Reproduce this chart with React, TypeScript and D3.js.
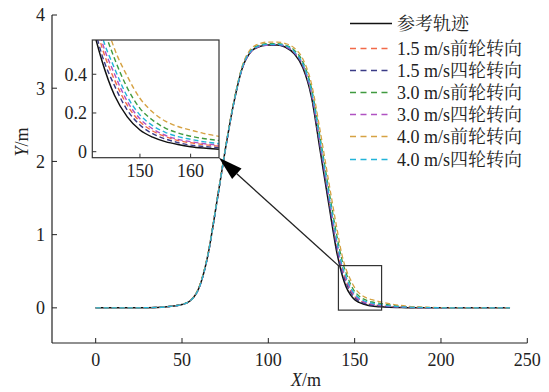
import React from 'react';
import * as d3 from 'd3';

// x positions shared by every series (m)
const xs = [0, 10, 20, 30, 40, 45, 50, 55, 60, 65, 70, 75, 80, 85, 90, 95, 100, 105, 110, 115, 120, 125, 130, 135, 140, 142.5, 145, 147.5, 150, 152.5, 155, 157.5, 160, 162.5, 165, 170, 175, 180, 190, 200, 220, 240];

const refPath = [0, 0, 0, 0.002, 0.012, 0.025, 0.045, 0.1, 0.28, 0.72, 1.42, 2.15, 2.8, 3.28, 3.5, 3.57, 3.59, 3.59, 3.56, 3.47, 3.28, 2.88, 2.15, 1.42, 0.72, 0.47, 0.29, 0.18, 0.112, 0.075, 0.052, 0.037, 0.026, 0.019, 0.014, 0.008, 0.005, 0.003, 0.001, 0, 0, 0];
const front15 = [0, 0, 0, 0.002, 0.013, 0.026, 0.047, 0.1, 0.29, 0.73, 1.43, 2.16, 2.81, 3.29, 3.51, 3.58, 3.6, 3.6, 3.57, 3.49, 3.31, 2.92, 2.22, 1.5, 0.8, 0.54, 0.37, 0.24, 0.155, 0.107, 0.078, 0.058, 0.046, 0.037, 0.03, 0.019, 0.012, 0.008, 0.003, 0.001, 0, 0];
const four15 = [0, 0, 0, 0.002, 0.012, 0.025, 0.046, 0.1, 0.28, 0.71, 1.41, 2.14, 2.8, 3.28, 3.5, 3.57, 3.59, 3.59, 3.56, 3.48, 3.3, 2.9, 2.19, 1.46, 0.76, 0.5, 0.34, 0.215, 0.138, 0.093, 0.066, 0.047, 0.034, 0.027, 0.022, 0.014, 0.009, 0.006, 0.002, 0.001, 0, 0];
const front30 = [0, 0, 0, 0.002, 0.013, 0.026, 0.047, 0.1, 0.29, 0.73, 1.43, 2.16, 2.81, 3.3, 3.52, 3.59, 3.61, 3.61, 3.59, 3.52, 3.36, 3.0, 2.33, 1.62, 0.95, 0.67, 0.48, 0.33, 0.224, 0.163, 0.122, 0.097, 0.08, 0.068, 0.06, 0.04, 0.026, 0.016, 0.006, 0.002, 0, 0];
const four30 = [0, 0, 0, 0.002, 0.012, 0.024, 0.045, 0.1, 0.28, 0.72, 1.42, 2.15, 2.8, 3.28, 3.5, 3.57, 3.59, 3.6, 3.57, 3.49, 3.32, 2.94, 2.25, 1.53, 0.84, 0.57, 0.4, 0.26, 0.17, 0.118, 0.085, 0.064, 0.052, 0.042, 0.035, 0.022, 0.014, 0.009, 0.003, 0.001, 0, 0];
const front40 = [0, 0, 0, 0.002, 0.013, 0.026, 0.048, 0.1, 0.29, 0.73, 1.43, 2.16, 2.82, 3.31, 3.54, 3.61, 3.63, 3.63, 3.61, 3.55, 3.4, 3.06, 2.42, 1.72, 1.05, 0.74, 0.53, 0.39, 0.276, 0.205, 0.158, 0.13, 0.112, 0.095, 0.082, 0.058, 0.038, 0.024, 0.009, 0.003, 0, 0];
const four40 = [0, 0, 0, 0.002, 0.012, 0.025, 0.046, 0.1, 0.28, 0.72, 1.42, 2.15, 2.8, 3.29, 3.51, 3.58, 3.6, 3.6, 3.58, 3.5, 3.33, 2.96, 2.28, 1.56, 0.88, 0.6, 0.43, 0.285, 0.19, 0.135, 0.1, 0.078, 0.064, 0.052, 0.044, 0.028, 0.018, 0.011, 0.004, 0.001, 0, 0];

const seriesNames = ['参考轨迹', '1.5 m/s前轮转向', '1.5 m/s四轮转向', '3.0 m/s前轮转向', '3.0 m/s四轮转向', '4.0 m/s前轮转向', '4.0 m/s四轮转向'];
const seriesValues = [refPath, front15, four15, front30, four30, front40, four40];
const seriesColors = ['#111111', '#f26a48', '#3a3b86', '#3f9a3f', '#b052c2', '#d6a243', '#22b4d9'];

const xTicks = [0, 50, 100, 150, 200, 250];
const yTicks = [0, 1, 2, 3, 4];
const insetXTicks = [150, 160];
const insetYTicks = [0, 0.2, 0.4];
const insetXRange = [140.6, 165.6];
const insetYRange = [-0.031, 0.577];

const FONT = '"Liberation Serif", "Noto Serif CJK SC", "Noto Sans CJK SC", serif';
const FS = 18;

export default function App() {
  const x = d3.scaleLinear().domain([-25.3, 250]).range([52, 527.3]);
  const y = d3.scaleLinear().domain([-0.48, 4]).range([343, 15]);

  const ix = d3.scaleLinear().domain(insetXRange).range([92.3, 219]);
  const iy = d3.scaleLinear().domain(insetYRange).range([157.7, 40]);

  const rows = seriesValues.map((vals) => vals.map((v, i) => [xs[i], v] as [number, number]));

  const line = d3.line<[number, number]>()
    .x(d => x(d[0]))
    .y(d => y(d[1]))
    .curve(d3.curveMonotoneX);
  const insetLine = d3.line<[number, number]>()
    .x(d => ix(d[0]))
    .y(d => iy(d[1]))
    .curve(d3.curveMonotoneX);

  // zoom box in main axes
  const bx0 = x(insetXRange[0]), bx1 = x(insetXRange[1]);
  const by0 = y(insetYRange[1]), by1 = y(insetYRange[0]);

  // arrow from zoom box corner to inset corner
  const ax0 = bx0, ay0 = by0;
  const ax1 = ix(insetXRange[1]), ay1 = iy(insetYRange[0]);
  const ang = Math.atan2(ay1 - ay0, ax1 - ax0);
  const headLen = 24, headW = 7;
  const hbx = ax1 - headLen * Math.cos(ang), hby = ay1 - headLen * Math.sin(ang);
  const head = [
    [ax1, ay1],
    [hbx + headW * Math.sin(ang), hby - headW * Math.cos(ang)],
    [hbx - headW * Math.sin(ang), hby + headW * Math.cos(ang)],
  ].map(p => p.join(',')).join(' ');

  const ir = { x: ix.range()[0], y: iy.range()[1], w: ix.range()[1] - ix.range()[0], h: iy.range()[0] - iy.range()[1] };

  return (
    <svg width={549} height={392} style={{ position: 'absolute', left: 0, top: 0, background: '#fff' }} fontFamily={FONT}>
      <defs>
        <clipPath id="insetClip">
          <rect x={ir.x} y={ir.y} width={ir.w} height={ir.h} />
        </clipPath>
      </defs>

      {/* main axes */}
      <line x1={x.range()[0]} x2={x.range()[1]} y1={343} y2={343} stroke="#222" strokeWidth={1.2} />
      <line x1={52} x2={52} y1={343} y2={y(4)} stroke="#222" strokeWidth={1.2} />
      {xTicks.map(t => (
        <g key={'xt' + t}>
          <line x1={x(t)} x2={x(t)} y1={343} y2={338} stroke="#222" strokeWidth={1} />
          <text x={x(t)} y={366} textAnchor="middle" fontSize={FS} fill="#222">{t}</text>
        </g>
      ))}
      {yTicks.map(t => (
        <g key={'yt' + t}>
          <line x1={52} x2={57} y1={y(t)} y2={y(t)} stroke="#222" strokeWidth={1} />
          <text x={45} y={y(t)} dy="0.35em" textAnchor="end" fontSize={FS} fill="#222">{t}</text>
        </g>
      ))}
      <text x={306} y={386} textAnchor="middle" fontSize={FS} fill="#222"><tspan fontStyle="italic">X</tspan>/m</text>
      <text transform="translate(28,142) rotate(-90)" textAnchor="middle" fontSize={FS} fill="#222"><tspan fontStyle="italic">Y</tspan>/m</text>

      {/* main curves */}
      {rows.map((r, i) => (
        <path key={'s' + i} d={line(r) || ''} fill="none" stroke={seriesColors[i]}
          strokeWidth={i === 0 ? 1.5 : 1.3} strokeDasharray={i === 0 ? undefined : '5,3'} />
      ))}

      {/* zoom box + arrow */}
      <rect x={bx0} y={by0} width={bx1 - bx0} height={by1 - by0} fill="none" stroke="#333" strokeWidth={1.2} />
      <line x1={ax0} y1={ay0} x2={hbx} y2={hby} stroke="#222" strokeWidth={1.3} />
      <polygon points={head} fill="#000" />

      {/* inset */}
      <rect x={ir.x} y={ir.y} width={ir.w} height={ir.h} fill="#fff" />
      <g clipPath="url(#insetClip)">
        {rows.map((r, i) => (
          <path key={'is' + i} d={insetLine(r) || ''} fill="none" stroke={seriesColors[i]}
            strokeWidth={i === 0 ? 1.5 : 1.4} strokeDasharray={i === 0 ? undefined : '5,3'} />
        ))}
      </g>
      <rect x={ir.x} y={ir.y} width={ir.w} height={ir.h} fill="none" stroke="#333" strokeWidth={1.2} />
      {insetXTicks.map(t => (
        <g key={'ixt' + t}>
          <line x1={ix(t)} x2={ix(t)} y1={iy.range()[0]} y2={iy.range()[0] - 4} stroke="#333" />
          <text x={ix(t)} y={177} textAnchor="middle" fontSize={FS} fill="#222">{t}</text>
        </g>
      ))}
      {insetYTicks.map(t => (
        <g key={'iyt' + t}>
          <line x1={ir.x} x2={ir.x + 4} y1={iy(t)} y2={iy(t)} stroke="#333" />
          <text x={87} y={iy(t)} dy="0.35em" textAnchor="end" fontSize={FS} fill="#222">{t}</text>
        </g>
      ))}

      {/* legend */}
      {seriesNames.map((name, i) => {
        const ly = Math.round(i === 0 ? 23 : 47.5 + (i - 1) * 22.2) + 0.5;
        return (
          <g key={'lg' + i}>
            <line x1={350} x2={392} y1={ly} y2={ly} stroke={seriesColors[i]}
              strokeWidth={i === 0 ? 1.5 : 1.3} strokeDasharray={i === 0 ? undefined : '6,4.5'} />
            <text x={397} y={ly} dy="0.35em" fontSize={FS} fill="#222">{name}</text>
          </g>
        );
      })}
    </svg>
  );
}
